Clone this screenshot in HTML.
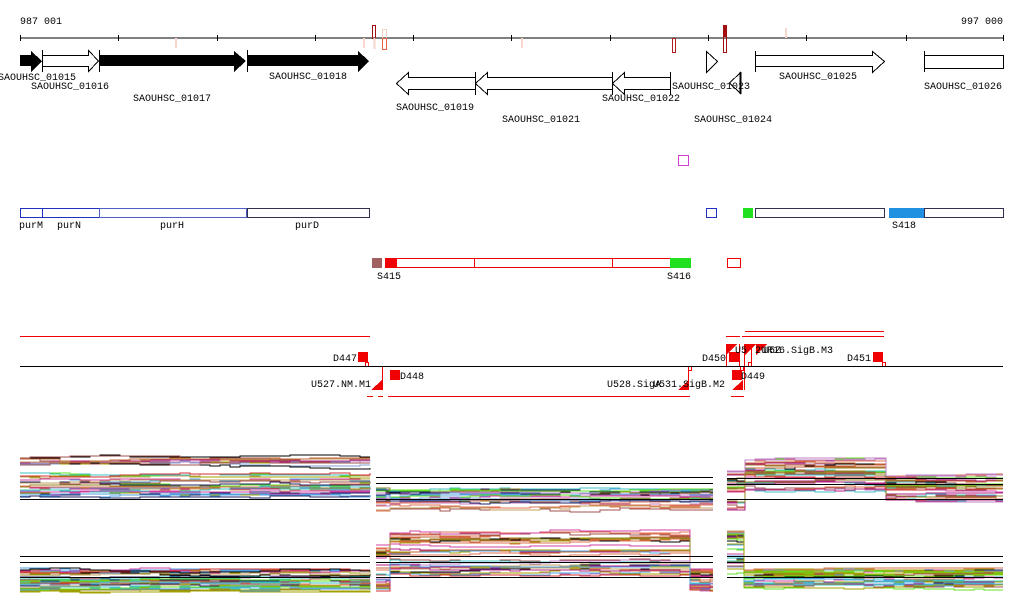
<!DOCTYPE html>
<html><head><meta charset="utf-8"><style>
html,body{margin:0;padding:0;background:#fff;}
svg{display:block;}
text{font-family:"Liberation Mono",monospace;font-size:10px;fill:#000;}
</style></head><body>
<svg id="s" width="1024" height="611" xmlns="http://www.w3.org/2000/svg" shape-rendering="crispEdges">
<text x="20" y="24">987 001</text>
<text x="1003" y="24" text-anchor="end">997 000</text>
<line x1="20" y1="38" x2="1003" y2="38" stroke="#000"/>
<g stroke="#000">
<line x1="20.5" y1="35" x2="20.5" y2="41"/><line x1="118.5" y1="35" x2="118.5" y2="41"/><line x1="217.5" y1="35" x2="217.5" y2="41"/><line x1="315.5" y1="35" x2="315.5" y2="41"/><line x1="413.5" y1="35" x2="413.5" y2="41"/><line x1="511.5" y1="35" x2="511.5" y2="41"/><line x1="610.5" y1="35" x2="610.5" y2="41"/><line x1="708.5" y1="35" x2="708.5" y2="41"/><line x1="806.5" y1="35" x2="806.5" y2="41"/><line x1="906.5" y1="35" x2="906.5" y2="41"/><line x1="1003.5" y1="35" x2="1003.5" y2="41"/>
</g>
<rect x="175" y="38" width="2" height="10" fill="#f8d8cc"/>
<rect x="363" y="38" width="2" height="10" fill="#f8d8cc"/>
<rect x="372.5" y="25.5" width="3" height="13" fill="none" stroke="#a01010"/>
<rect x="373.5" y="38" width="2" height="11" fill="#f3d5cc"/>
<rect x="382.5" y="29.5" width="4" height="9" fill="none" stroke="#f8d0c0"/>
<rect x="382.5" y="38.5" width="4" height="11" fill="none" stroke="#f06040"/>
<rect x="521" y="38" width="2" height="10" fill="#f8d8cc"/>
<rect x="672.5" y="38.5" width="3" height="14" fill="none" stroke="#b02020"/>
<rect x="723.5" y="25.5" width="3" height="27" fill="none" stroke="#a01010"/>
<rect x="724" y="25" width="2" height="12" fill="#a01010"/>
<rect x="785" y="28" width="2" height="10" fill="#f8d8cc"/>
<polygon points="20,55 31,55 31,51 42,61 31,72 31,66 20,66" fill="#000"/>
<polygon points="42.5,55.5 88.5,55.5 88.5,50.5 98.5,61 88.5,71.5 88.5,66.5 42.5,66.5" fill="#fff" stroke="#000"/>
<line x1="42.5" y1="50" x2="42.5" y2="72" stroke="#000"/>
<polygon points="99,55 234,55 234,51 246,61 234,72 234,66 99,66" fill="#000"/>
<line x1="99.5" y1="50" x2="99.5" y2="72" stroke="#000"/>
<polygon points="247,55 358,55 358,51 369,61 358,72 358,66 247,66" fill="#000"/>
<line x1="247.5" y1="50" x2="247.5" y2="72" stroke="#000"/>
<polygon points="396.5,83.5 408.5,72.5 408.5,77.5 475.5,77.5 475.5,89.5 408.5,89.5 408.5,94.5" fill="#fff" stroke="#000"/>
<polygon points="475.5,83.5 487.5,72.5 487.5,77.5 612.5,77.5 612.5,89.5 487.5,89.5 487.5,94.5" fill="#fff" stroke="#000"/>
<polygon points="612.5,83.5 624.5,72.5 624.5,77.5 670.5,77.5 670.5,89.5 624.5,89.5 624.5,94.5" fill="#fff" stroke="#000"/>
<line x1="475.5" y1="72" x2="475.5" y2="95" stroke="#000"/><line x1="612.5" y1="72" x2="612.5" y2="95" stroke="#000"/><line x1="670.5" y1="72" x2="670.5" y2="95" stroke="#000"/>
<polygon points="706.5,51.5 717.5,61.5 706.5,72.5" fill="#fff" stroke="#000"/>
<polygon points="740.5,72.5 729.5,83 740.5,93.5" fill="#fff" stroke="#000"/>
<line x1="740.5" y1="72" x2="740.5" y2="94" stroke="#000" stroke-width="2"/>
<polygon points="755.5,55.5 872.5,55.5 872.5,51.5 884.5,61.5 872.5,72.5 872.5,66.5 755.5,66.5" fill="#fff" stroke="#000"/>
<line x1="755.5" y1="51" x2="755.5" y2="72" stroke="#000"/>
<rect x="924.5" y="55.5" width="79" height="13" fill="#fff" stroke="#000"/>
<line x1="924.5" y1="51" x2="924.5" y2="72" stroke="#000"/>
<text x="-2" y="80">SAOUHSC_01015</text>
<text x="31" y="89">SAOUHSC_01016</text>
<text x="133" y="101">SAOUHSC_01017</text>
<text x="269" y="79">SAOUHSC_01018</text>
<text x="396" y="110">SAOUHSC_01019</text>
<text x="502" y="122">SAOUHSC_01021</text>
<text x="602" y="101">SAOUHSC_01022</text>
<text x="672" y="89">SAOUHSC_01023</text>
<text x="694" y="122">SAOUHSC_01024</text>
<text x="779" y="79">SAOUHSC_01025</text>
<text x="924" y="89">SAOUHSC_01026</text>
<rect x="678.5" y="155.5" width="10" height="10" fill="none" stroke="#d040d0"/>
<g fill="#fff" stroke="#2030c0">
<rect x="20.5" y="208.5" width="22" height="9"/><rect x="42.5" y="208.5" width="57" height="9"/><rect x="99.5" y="208.5" width="147" height="9" stroke="#5060c0"/>
<rect x="706.5" y="208.5" width="10" height="9"/>
</g>
<rect x="247.5" y="208.5" width="122" height="9" fill="#fff" stroke="#303050"/>
<rect x="743" y="208" width="10" height="10" fill="#20e020"/>
<rect x="755.5" y="208.5" width="129" height="9" fill="#fff" stroke="#303050"/>
<rect x="889" y="208" width="35" height="10" fill="#2090e0"/>
<rect x="924.5" y="208.5" width="79" height="9" fill="#fff" stroke="#303050"/>
<text x="19" y="228">purM</text><text x="57" y="228">purN</text><text x="160" y="228">purH</text><text x="295" y="228">purD</text><text x="892" y="228">S418</text>
<rect x="372" y="258" width="10" height="10" fill="#a06060"/>
<rect x="385" y="258" width="11" height="10" fill="#f00000"/>
<rect x="396.5" y="258.5" width="274" height="9" fill="#fff" stroke="#f00000"/>
<line x1="474.5" y1="258" x2="474.5" y2="268" stroke="#f00000"/><line x1="612.5" y1="258" x2="612.5" y2="268" stroke="#f00000"/>
<rect x="670" y="258" width="21" height="10" fill="#20e020"/>
<rect x="727.5" y="258.5" width="13" height="9" fill="#fff" stroke="#f00000"/>
<text x="377" y="279">S415</text><text x="667" y="279">S416</text>
<g stroke="#f00000" fill="none">
<line x1="20" y1="336.5" x2="370" y2="336.5"/>
<line x1="726" y1="336.5" x2="740" y2="336.5"/>
<line x1="745" y1="331.5" x2="884" y2="331.5"/>
<line x1="742" y1="336.5" x2="884" y2="336.5"/>
<line x1="367" y1="396.5" x2="373" y2="396.5"/>
<line x1="378" y1="396.5" x2="383" y2="396.5"/>
<line x1="388" y1="396.5" x2="690" y2="396.5"/>
<line x1="731" y1="396.5" x2="744" y2="396.5"/>
<line x1="382.5" y1="366" x2="382.5" y2="390"/>
<line x1="726.5" y1="344" x2="726.5" y2="366"/>
<line x1="739.5" y1="344" x2="739.5" y2="366"/>
<line x1="744.5" y1="344" x2="744.5" y2="390"/>
<line x1="751.5" y1="344" x2="751.5" y2="366"/>
<line x1="688.5" y1="366" x2="688.5" y2="390"/>
<rect x="365.5" y="362.5" width="3" height="4"/><rect x="688.5" y="366.5" width="3" height="4"/><rect x="882.5" y="362.5" width="3" height="4"/><rect x="748.5" y="362.5" width="3" height="4"/><rect x="740.5" y="366.5" width="3" height="4"/>
</g>
<g fill="#f00000">
<rect x="358" y="352" width="10" height="10"/>
<rect x="390" y="370" width="10" height="10"/>
<rect x="729" y="352" width="10" height="10"/>
<rect x="873" y="352" width="10" height="10"/>
<rect x="732" y="370" width="10" height="10"/>
<polygon points="371,390 382,390 382,380"/>
<polygon points="678,390 689,390 689,380"/>
<polygon points="732,390 743,390 743,380"/>
<polygon points="726,344 737,344 726,355"/>
<polygon points="745,344 756,344 745,355"/>
<polygon points="756,344 767,344 756,355"/>
</g>
<line x1="20" y1="366.5" x2="1003" y2="366.5" stroke="#000"/>
<text x="333" y="361">D447</text><text x="400" y="379">D448</text><text x="311" y="387">U527.NM.M1</text>
<text x="607" y="387">U528.SigA</text><text x="653" y="387">U531.SigB.M2</text>
<text x="702" y="361">D450</text><text x="741" y="379">D449</text><text x="847" y="361">D451</text>
<text x="735" y="353">U5</text><text x="755" y="353">2UR16.SigB.M3</text><text x="763" y="353">U5Z</text>
<g id="plots" fill="none" stroke-width="1" shape-rendering="crispEdges"></g>
<g stroke="#000">
<line x1="20" y1="499.5" x2="370" y2="499.5"/>
<line x1="376" y1="477.5" x2="713" y2="477.5"/><line x1="376" y1="483.5" x2="713" y2="483.5"/><line x1="376" y1="499.5" x2="713" y2="499.5"/>
<line x1="727" y1="478.5" x2="1003" y2="478.5"/><line x1="727" y1="484.5" x2="1003" y2="484.5"/><line x1="727" y1="499.5" x2="1003" y2="499.5"/>
<line x1="20" y1="556.5" x2="370" y2="556.5"/><line x1="20" y1="562.5" x2="370" y2="562.5"/><line x1="20" y1="577.5" x2="370" y2="577.5"/>
<line x1="376" y1="556.5" x2="713" y2="556.5"/><line x1="376" y1="562.5" x2="713" y2="562.5"/><line x1="376" y1="577.5" x2="713" y2="577.5"/>
<line x1="727" y1="556.5" x2="1003" y2="556.5"/><line x1="727" y1="562.5" x2="1003" y2="562.5"/><line x1="727" y1="577.5" x2="1003" y2="577.5"/>
</g>
</svg>
<script>
(function(){
var seed=7;function r(){seed=(seed*16807)%2147483647;return (seed-1)/2147483646;}
var cols=["#a0a000","#c06030","#d03030","#b02080","#50a0e0","#60e020","#c080c0","#908020","#e07050","#202060","#a05050","#80a0d0","#c0a060","#d040a0","#40c0c0","#000000"];
var g=document.getElementById("plots");var out="";
function band(pieces,n){
 for(var i=0;i<n;i++){
  var c=cols[Math.floor(r()*cols.length)];var f=r();var pts=[];
  for(var p=0;p<pieces.length;p++){var s=pieces[p];var base=s[2]+(s[3]-s[2])*f;var off=0;var y;
   for(var x=s[0];x<=s[1];x+=10){ if(r()<0.5){off+=(r()-0.5)*3;} if(off>3)off=3; if(off<-3)off=-3;
     y=Math.round(base+off); if(pts.length)pts.push(x+","+pts[pts.length-1].split(",")[1]); pts.push(x+","+y);}
   pts.push(s[1]+","+y);
  }
  out+='<polyline stroke="'+c+'" points="'+pts.join(" ")+'"/>';
 }
}
band([[20,370,456,497]],38);
band([[376,388,488,512],[390,713,490,510]],28);
band([[727,742,470,510],[745,885,459,490],[886,1003,475,500]],34);
band([[20,370,568,593]],38);
band([[376,388,545,592],[390,688,532,575],[690,713,569,591]],34);
band([[727,742,527,580],[744,1003,569,591]],34);
g.innerHTML=out;
})();
</script>
</body></html>
